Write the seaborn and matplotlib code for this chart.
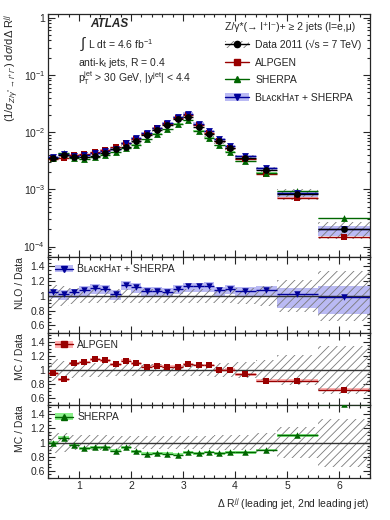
import numpy as np
import matplotlib
matplotlib.use("Agg")
import matplotlib.pyplot as plt
import seaborn as sns
from matplotlib.patches import Patch
from matplotlib.lines import Line2D
from matplotlib.ticker import MultipleLocator, FixedLocator, FuncFormatter, LogLocator, NullFormatter

# bin edges of Delta R(jj)
bin_edges = [0.4, 0.6, 0.8, 1.0, 1.2, 1.4, 1.6, 1.8, 2.0, 2.2, 2.4, 2.6, 2.8, 3.0,
             3.2, 3.4, 3.6, 3.8, 4.0, 4.4, 4.8, 5.6, 6.6]

# normalised data cross section and relative uncertainty
data_xsec = [3.5e-3, 4.0e-3, 3.66e-3, 3.66e-3, 3.9e-3, 4.3e-3, 5.0e-3, 5.6e-3, 6.9e-3,
             9.0e-3, 1.1e-2, 1.34e-2, 1.68e-2, 1.87e-2, 1.25e-2, 9.2e-3, 7.0e-3,
             5.25e-3, 3.6e-3, 2.2e-3, 8.4e-4, 2.03e-4]
data_rel_err = [0.15, 0.13, 0.11, 0.10, 0.10, 0.10, 0.09, 0.09, 0.09, 0.09, 0.09, 0.09,
                0.09, 0.09, 0.09, 0.09, 0.10, 0.10, 0.11, 0.14, 0.22, 0.34]

# prediction / data ratios
blackhat_ratio = [1.05, 1.03, 1.05, 1.08, 1.11, 1.10, 1.03, 1.155, 1.125, 1.065, 1.065,
                  1.06, 1.10, 1.13, 1.13, 1.135, 1.075, 1.10, 1.07, 1.08, 1.02, 0.98]
blackhat_up = [0.05] * 18 + [0.05, 0.05, 0.09, 0.155]
blackhat_down = [0.08] * 18 + [0.09, 0.10, 0.18, 0.23]
alpgen_ratio = [0.955, 0.87, 1.095, 1.115, 1.15, 1.14, 1.08, 1.135, 1.095, 1.045, 1.06,
                1.045, 1.045, 1.08, 1.07, 1.07, 1.0, 1.005, 0.94, 0.85, 0.85, 0.72]
alpgen_err = [0.02] * 22
sherpa_ratio = [1.0, 1.07, 0.97, 0.92, 0.93, 0.93, 0.885, 0.93, 0.875, 0.84, 0.85, 0.84,
                0.83, 0.86, 0.85, 0.865, 0.85, 0.86, 0.86, 0.895, 1.10, 1.545]
sherpa_err = [0.02] * 22

sns.set_theme(style="ticks")
plt.rcParams['font.family'] = ['Liberation Sans', 'DejaVu Sans']
plt.rcParams['mathtext.fontset'] = 'custom'
plt.rcParams['mathtext.rm'] = 'Liberation Sans'
plt.rcParams['mathtext.it'] = 'Liberation Sans:italic'
plt.rcParams['mathtext.bf'] = 'Liberation Sans:bold'
plt.rcParams['mathtext.fallback'] = 'stixsans'
plt.rcParams['hatch.linewidth'] = 0.6

edges = np.array(bin_edges)
centers = (edges[:-1] + edges[1:]) / 2
half = (edges[1:] - edges[:-1]) / 2
data = np.array(data_xsec)
derr = np.array(data_rel_err)

C_BH, C_BH_BAND = '#000099', '#babaf4'
C_AL, C_AL_BAND = '#990000', '#ffb3b3'
C_SH, C_SH_BAND = '#006600', '#8cf08c'
C_HATCH = '#7a7a7a'
FS = 7.5

fig = plt.figure(figsize=(3.9, 5.2), dpi=100)
L, W = 0.123, 0.826
ax_main = fig.add_axes([L, 0.506, W, 0.467])
ax_nlo = fig.add_axes([L, 0.360, W, 0.146], sharex=ax_main)
ax_alp = fig.add_axes([L, 0.221, W, 0.139], sharex=ax_main)
ax_she = fig.add_axes([L, 0.081, W, 0.140], sharex=ax_main)


def boxes(ax, lo, hi, **kw):
    ax.bar(centers, np.array(hi) - np.array(lo), bottom=lo, width=2 * half,
           align='center', linewidth=0, **kw)


def series(ax, y, color, marker, size=20, z=4):
    ax.errorbar(centers, y, xerr=half, fmt='none', ecolor=color, elinewidth=1.0,
                capsize=0, zorder=z)
    sns.scatterplot(x=centers, y=y, ax=ax, marker=marker, s=size, color=color,
                    edgecolor=color, linewidth=0, zorder=z + 0.5, legend=False)


# ---- main panel ----
bh = data * np.array(blackhat_ratio)
al = data * np.array(alpgen_ratio)
sh = data * np.array(sherpa_ratio)

boxes(ax_main, bh * (1 - np.array(blackhat_down)), bh * (1 + np.array(blackhat_up)),
      color=C_BH_BAND, zorder=1)
boxes(ax_main, data * (1 - derr), data * (1 + derr), fill=False, hatch='////',
      edgecolor=C_HATCH, zorder=2)
boxes(ax_main, al * (1 - np.array(alpgen_err)), al * (1 + np.array(alpgen_err)),
      color=C_AL_BAND, zorder=2.5)
boxes(ax_main, sh * (1 - np.array(sherpa_err)), sh * (1 + np.array(sherpa_err)),
      color=C_SH_BAND, zorder=2.5)
series(ax_main, al, C_AL, 's', 22, 3)
series(ax_main, sh, C_SH, '^', 24, 3.2)
series(ax_main, bh, C_BH, 'v', 24, 3.4)
series(ax_main, data, 'black', 'o', 24, 4)

ax_main.set_yscale('log')
ax_main.set_ylim(6.6e-5, 1.16)
ax_main.yaxis.set_major_locator(FixedLocator([1e-4, 1e-3, 1e-2, 1e-1, 1]))
ax_main.yaxis.set_major_formatter(FuncFormatter(
    lambda v, p: '1' if abs(v - 1) < 1e-9 else r'$10^{%d}$' % round(np.log10(v))))
ax_main.yaxis.set_minor_locator(LogLocator(base=10, subs=np.arange(2, 10), numticks=20))
ax_main.yaxis.set_minor_formatter(NullFormatter())
ax_main.set_ylabel(r'(1/$\sigma_{Z/\gamma^{*}\rightarrow l^{+}l^{-}}$) d$\sigma$/d$\Delta$ R$^{jj}$',
                   loc='top', fontsize=8, labelpad=2)

ax_main.text(0.13, 0.957, 'ATLAS', transform=ax_main.transAxes, fontsize=8.5,
             fontweight='bold', fontstyle='italic', va='center')
ax_main.text(0.098, 0.876, r'$\int$', transform=ax_main.transAxes, fontsize=11, va='center')
ax_main.text(0.125, 0.876, r'L dt = 4.6 fb$^{-1}$', transform=ax_main.transAxes,
             fontsize=FS, va='center')
ax_main.text(0.093, 0.80, r'anti-k$_{\rm t}$ jets, R = 0.4', transform=ax_main.transAxes,
             fontsize=FS, va='center')
ax_main.text(0.093, 0.737, r'p$_{\rm T}^{\rm jet}$ > 30 GeV, |y$^{\rm jet}$| < 4.4',
             transform=ax_main.transAxes, fontsize=FS, va='center')

bh_label = 'B\u029f\u1d00\u1d04\u1d0bH\u1d00\u1d1b + SHERPA'
h_data = (Patch(fill=False, hatch='////', edgecolor=C_HATCH, linewidth=0),
          Line2D([], [], color='black', marker='o', ms=4.5, lw=1))
h_al = Line2D([], [], color=C_AL, marker='s', ms=4.2, lw=1)
h_sh = Line2D([], [], color=C_SH, marker='^', ms=4.5, lw=1)
h_bh = (Patch(color=C_BH_BAND, linewidth=0),
        Line2D([], [], color=C_BH, marker='v', ms=4.5, lw=1))
leg = ax_main.legend([h_data, h_al, h_sh, h_bh],
                     ['Data 2011 (\u221as = 7 TeV)', 'ALPGEN', 'SHERPA', bh_label],
                     title='Z/\u03b3*(\u2192 l\u207al\u207b)+ \u2265 2 jets (l=e,\u03bc)',
                     loc='upper right', bbox_to_anchor=(1.0, 1.0), frameon=False,
                     fontsize=FS, title_fontsize=FS, handlelength=2.3,
                     handletextpad=0.6, labelspacing=0.72, borderaxespad=0.4)
leg._legend_box.align = 'left'

# ---- ratio panels ----
dlo, dhi = 1 - derr, 1 + derr
ratio_info = [
    (ax_nlo, 'NLO / Data', blackhat_ratio, blackhat_down, blackhat_up, C_BH, C_BH_BAND, 'v', bh_label),
    (ax_alp, 'MC / Data', alpgen_ratio, alpgen_err, alpgen_err, C_AL, C_AL_BAND, 's', 'ALPGEN'),
    (ax_she, 'MC / Data', sherpa_ratio, sherpa_err, sherpa_err, C_SH, C_SH_BAND, '^', 'SHERPA'),
]
for ax, ylab, r, dn, up, col, band, mk, lab in ratio_info:
    r = np.array(r)
    boxes(ax, r - np.array(dn), r + np.array(up), color=band, zorder=1)
    boxes(ax, dlo, dhi, fill=False, hatch='////', edgecolor=C_HATCH, zorder=2)
    ax.axhline(1.0, color='#333333', lw=1.0, zorder=2.5)
    series(ax, r, col, mk, 22, 3)
    ax.set_ylim(0.5, 1.53)
    ax.yaxis.set_major_locator(FixedLocator([0.6, 0.8, 1.0, 1.2, 1.4]))
    ax.yaxis.set_major_formatter(FuncFormatter(lambda v, p: '%g' % round(v, 1)))
    ax.yaxis.set_minor_locator(MultipleLocator(0.05))
    ax.set_ylabel(ylab, loc='top', fontsize=FS, labelpad=4)
    ax.legend([(Patch(color=band, linewidth=0),
                Line2D([], [], color=col, marker=mk, ms=4.5, lw=1))], [lab],
              loc='upper left', frameon=False, fontsize=FS, handlelength=1.7,
              handletextpad=0.4, borderaxespad=0.3)

for ax in [ax_main, ax_nlo, ax_alp, ax_she]:
    ax.set_xlim(0.4, 6.6)
    ax.xaxis.set_major_locator(MultipleLocator(1))
    ax.xaxis.set_minor_locator(MultipleLocator(0.2))
    ax.tick_params(which='both', direction='in', top=True, right=True, labelsize=FS,
                   width=0.8, pad=2)
    ax.tick_params(which='major', length=5)
    ax.tick_params(which='minor', length=2.5)
    for s in ax.spines.values():
        s.set_linewidth(0.9)
    if ax is not ax_she:
        ax.tick_params(labelbottom=False)

ax_she.set_xlabel(r'$\Delta$ R$^{jj}$ (leading jet, 2nd leading jet)', loc='right',
                  fontsize=FS, labelpad=4)

fig.savefig('out.png', dpi=100)
